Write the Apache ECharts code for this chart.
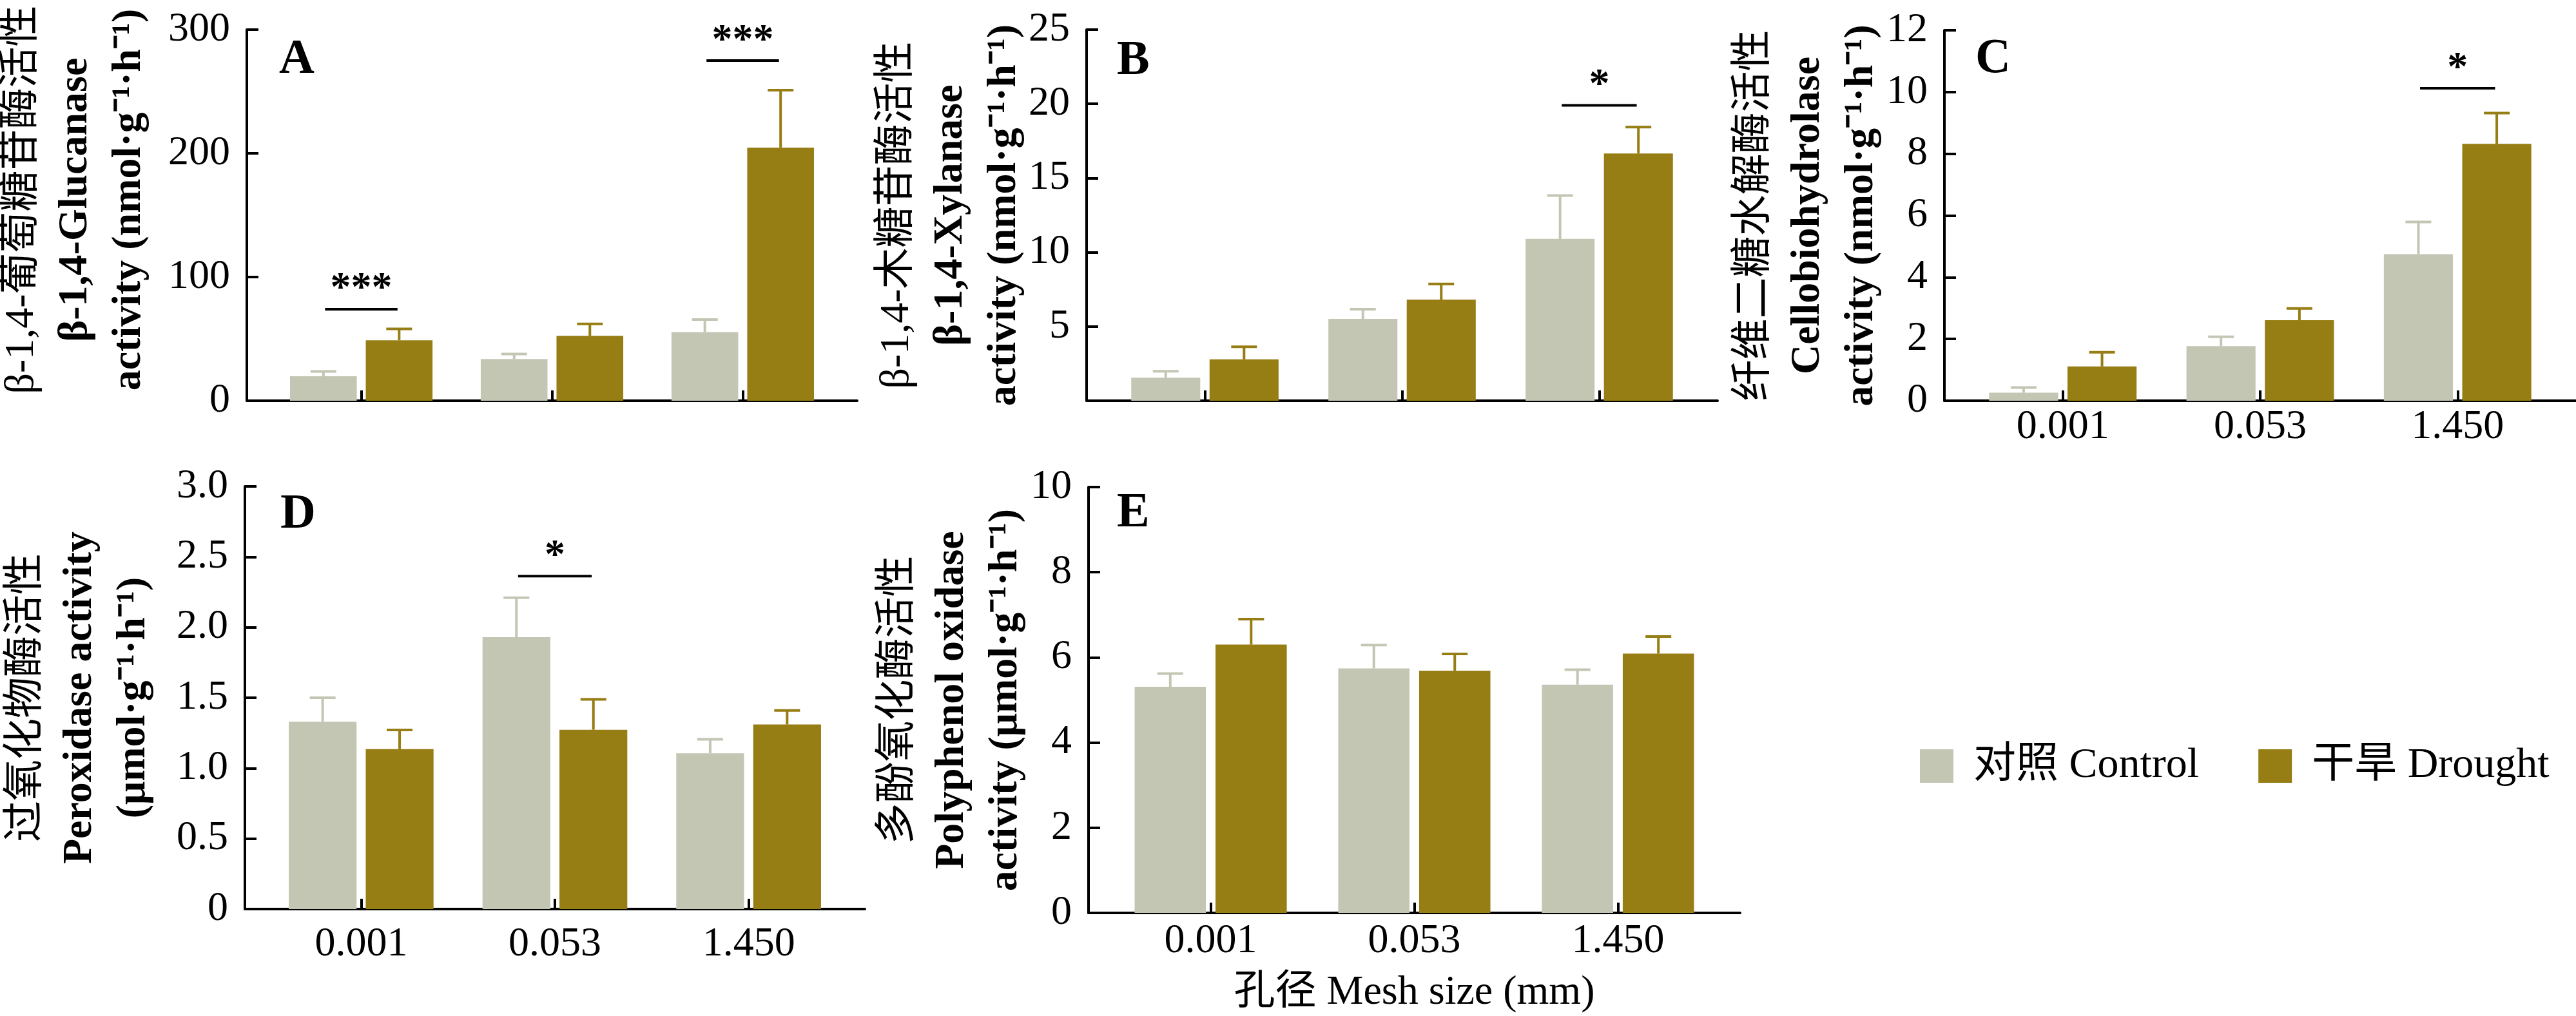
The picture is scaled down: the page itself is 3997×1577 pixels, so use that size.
<!DOCTYPE html>
<html>
<head>
<meta charset="utf-8">
<title>Enzyme activity by mesh size</title>
<script src="https://cdn.jsdelivr.net/npm/echarts@6.0.0/dist/echarts.min.js"></script>
<style>
	html, body { margin: 0; padding: 0; background: #fff; }
	#chart { width: 3997px; height: 1577px; }
</style>
</head>
<body>
<div id="chart"></div>
<script>
(function() {
	"use strict";

	/* data (mean and standard error) */
	var meshSizes = ['0.001', '0.053', '1.450'];

	var glucControl = [19.8, 33.7, 55.5];
	var glucControlErr = [3.9, 4.0, 10.1];
	var glucDrought = [48.8, 52.5, 204.6];
	var glucDroughtErr = [9.3, 9.6, 46.5];

	var xylControl = [1.55, 5.51, 10.9];
	var xylControlErr = [0.44, 0.65, 2.92];
	var xylDrought = [2.79, 6.81, 16.66];
	var xylDroughtErr = [0.85, 1.06, 1.78];

	var cbhControl = [0.26, 1.77, 4.75];
	var cbhControlErr = [0.17, 0.30, 1.04];
	var cbhDrought = [1.11, 2.61, 8.32];
	var cbhDroughtErr = [0.46, 0.38, 1.00];

	var perControl = [1.33, 1.93, 1.105];
	var perControlErr = [0.17, 0.28, 0.10];
	var perDrought = [1.135, 1.273, 1.31];
	var perDroughtErr = [0.136, 0.215, 0.10];

	var ppoControl = [5.31, 5.74, 5.36];
	var ppoControlErr = [0.31, 0.55, 0.35];
	var ppoDrought = [6.30, 5.69, 6.09];
	var ppoDroughtErr = [0.60, 0.39, 0.40];

	/* significance: [group, height of the bar line] and its stars */
	var glucSig = [[0, 74], [2, 275]];
	var glucSigText = ['***', '***'];
	var xylSig = [[2, 19.9]];
	var xylSigText = ['*'];
	var cbhSig = [[2, 10.12]];
	var cbhSigText = ['*'];
	var perSig = [[1, 2.363]];
	var perSigText = ['*'];

	var glucTicks = [0, 100, 200, 300];
	var xylTicks = [0, 5, 10, 15, 20, 25];
	var cbhTicks = [0, 2, 4, 6, 8, 10, 12];
	var perTicks = [0, 0.5, 1.0, 1.5, 2.0, 2.5, 3.0];
	var ppoTicks = [0, 2, 4, 6, 8, 10];

	var CONTROL = '对照 Control';
	var DROUGHT = '干旱 Drought';
	var colorControl = '#c4c6b4';
	var colorDrought = '#967d14';
	var FONT = '"Liberation Serif", "Times New Roman", "Noto Sans CJK SC", serif';

	var barWidthPct = 0.35;
	var barGapPct = 0.135;
	var barOffset = (barWidthPct + barWidthPct * barGapPct) / 2;

	var grids = [], xAxes = [], yAxes = [], series = [], titles = [];

	function pairs(values) {
		return values.map(function(v, i) { return [i, v]; });
	}

	function errorSeries(idx, values, errs, offset, color) {
		return {
			type: 'custom',
			xAxisIndex: idx,
			yAxisIndex: idx,
			silent: true,
			z: 3,
			data: values.map(function(v, i) { return [i, v, errs[i]]; }),
			renderItem: function(params, api) {
				var x = api.value(0) + offset;
				var top = api.coord([x, api.value(1)]);
				var end = api.coord([x, api.value(1) + api.value(2)]);
				return {
					type: 'group',
					children: [{
						type: 'line',
						shape: { x1: top[0], y1: top[1], x2: end[0], y2: end[1] },
						style: { stroke: color, lineWidth: 4 }
					}, {
						type: 'line',
						shape: { x1: end[0] - 20, y1: end[1], x2: end[0] + 20, y2: end[1] },
						style: { stroke: color, lineWidth: 4 }
					}]
				};
			}
		};
	}

	function sigSeries(idx, sig, texts) {
		return {
			type: 'custom',
			xAxisIndex: idx,
			yAxisIndex: idx,
			silent: true,
			z: 4,
			data: sig,
			renderItem: function(params, api) {
				var g = api.value(0);
				var left = api.coord([g - 0.19, api.value(1)]);
				var right = api.coord([g + 0.19, api.value(1)]);
				var mid = api.coord([g, api.value(1)]);
				return {
					type: 'group',
					children: [{
						type: 'line',
						shape: { x1: left[0], y1: left[1], x2: right[0], y2: right[1] },
						style: { stroke: '#000', lineWidth: 4 }
					}, {
						type: 'text',
						style: {
							text: texts[params.dataIndex],
							x: mid[0],
							y: mid[1] - 30,
							align: 'center',
							verticalAlign: 'middle',
							font: 'bold 64px ' + FONT,
							fill: '#000'
						}
					}]
				};
			}
		};
	}

	function addPanel(p) {
		var idx = grids.length;
		grids.push(p.grid);
		xAxes.push({
			type: 'value',
			gridIndex: idx,
			min: -0.6,
			max: 2.6,
			name: p.xName || '',
			nameLocation: 'middle',
			nameGap: p.xNameGap || 0,
			nameTextStyle: { fontFamily: FONT, fontSize: 64, color: '#000' },
			axisLine: { show: true, onZero: false, lineStyle: { color: '#000', width: 4 } },
			axisTick: { show: true, inside: true, length: 16, customValues: [0, 1, 2], lineStyle: { color: '#000', width: 4 } },
			axisLabel: {
				show: p.showLabels,
				customValues: [0, 1, 2],
				margin: p.labelMargin || 10,
				fontFamily: FONT,
				fontSize: 64,
				color: '#000',
				formatter: function(v) { return meshSizes[Math.round(v)]; }
			},
			splitLine: { show: false }
		});
		yAxes.push({
			type: 'value',
			gridIndex: idx,
			min: p.ticks[0],
			max: p.ticks[p.ticks.length - 1],
			interval: p.ticks[1] - p.ticks[0],
			name: p.yName,
			nameLocation: 'middle',
			nameRotate: 90,
			nameGap: p.yNameGap,
			nameTextStyle: {
				padding: p.yNamePad || 0,
				rich: {
					r: { fontFamily: FONT, fontSize: 64, lineHeight: 83, color: '#000' },
					b: { fontFamily: FONT, fontSize: 64, lineHeight: 83, fontWeight: 'bold', color: '#000' }
				}
			},
			axisLine: { show: true, onZero: false, lineStyle: { color: '#000', width: 4 } },
			axisTick: { show: true, inside: true, length: 18, lineStyle: { color: '#000', width: 4 } },
			axisLabel: {
				margin: 26,
				fontFamily: FONT,
				fontSize: 64,
				color: '#000',
				formatter: p.tickFormat
			},
			splitLine: { show: false }
		});
		series.push({
			type: 'bar',
			name: CONTROL,
			xAxisIndex: idx,
			yAxisIndex: idx,
			data: pairs(p.control),
			barWidth: (barWidthPct * 100) + '%',
			barGap: (barGapPct * 100) + '%',
			itemStyle: { color: colorControl }
		});
		series.push({
			type: 'bar',
			name: DROUGHT,
			xAxisIndex: idx,
			yAxisIndex: idx,
			data: pairs(p.drought),
			barWidth: (barWidthPct * 100) + '%',
			barGap: (barGapPct * 100) + '%',
			itemStyle: { color: colorDrought }
		});
		series.push(errorSeries(idx, p.control, p.controlErr, -barOffset, colorControl));
		series.push(errorSeries(idx, p.drought, p.droughtErr, barOffset, colorDrought));
		if (p.sig) series.push(sigSeries(idx, p.sig, p.sigText));
		titles.push({
			text: p.letter,
			left: p.letterPos[0],
			top: p.letterPos[1],
			padding: 0,
			textStyle: { fontFamily: FONT, fontSize: 76, fontWeight: 'bold', color: '#000' }
		});
	}

	/* A: glucanase */
	addPanel({
		letter: 'A', letterPos: [433, 55],
		grid: { left: 383, top: 46, width: 947, height: 576 },
		ticks: glucTicks,
		tickFormat: function(v) { return String(v); },
		yName: '{r|β-1,4-葡萄糖苷酶活性}\n{b|β-1,4-Glucanase}\n{b|activity (nmol·g⁻¹·h⁻¹)}',
		yNameGap: 141, yNamePad: [0, 0, 0, 48],
		showLabels: false,
		control: glucControl, controlErr: glucControlErr,
		drought: glucDrought, droughtErr: glucDroughtErr,
		sig: glucSig, sigText: glucSigText
	});

	/* B: xylanase */
	addPanel({
		letter: 'B', letterPos: [1733, 57],
		grid: { left: 1686, top: 46, width: 979, height: 576 },
		ticks: xylTicks,
		tickFormat: function(v) { return v === 0 ? '' : String(v); },
		yName: '{r|β-1,4-木糖苷酶活性}\n{b|β-1,4-Xylanase}\n{b|activity (nmol·g⁻¹·h⁻¹)}',
		yNameGap: 86,
		showLabels: false,
		control: xylControl, controlErr: xylControlErr,
		drought: xylDrought, droughtErr: xylDroughtErr,
		sig: xylSig, sigText: xylSigText
	});

	/* C: cellobiohydrolase */
	addPanel({
		letter: 'C', letterPos: [3065, 54],
		grid: { left: 3017, top: 47, width: 980, height: 575 },
		ticks: cbhTicks,
		tickFormat: function(v) { return String(v); },
		yName: '{r|纤维二糖水解酶活性}\n{b|Cellobiohydrolase}\n{b|activity (nmol·g⁻¹·h⁻¹)}',
		yNameGap: 87,
		showLabels: true, labelMargin: 9,
		control: cbhControl, controlErr: cbhControlErr,
		drought: cbhDrought, droughtErr: cbhDroughtErr,
		sig: cbhSig, sigText: cbhSigText
	});

	/* D: peroxidase */
	addPanel({
		letter: 'D', letterPos: [435, 761],
		grid: { left: 380, top: 755, width: 962, height: 656 },
		ticks: perTicks,
		tickFormat: function(v) { return v === 0 ? '0' : v.toFixed(1); },
		yName: '{r|过氧化物酶活性}\n{b|Peroxidase activity}\n{b|(μmol·g⁻¹·h⁻¹)}',
		yNameGap: 131,
		showLabels: true, labelMargin: 23,
		control: perControl, controlErr: perControlErr,
		drought: perDrought, droughtErr: perDroughtErr,
		sig: perSig, sigText: perSigText
	});

	/* E: polyphenol oxidase */
	addPanel({
		letter: 'E', letterPos: [1733, 759],
		grid: { left: 1689, top: 756, width: 1011, height: 661 },
		ticks: ppoTicks,
		tickFormat: function(v) { return String(v); },
		yName: '{r|多酚氧化酶活性}\n{b|Polyphenol oxidase}\n{b|activity (μmol·g⁻¹·h⁻¹)}',
		yNameGap: 87,
		showLabels: true, labelMargin: 12,
		xName: '孔径 Mesh size (mm)', xNameGap: 92,
		control: ppoControl, controlErr: ppoControlErr,
		drought: ppoDrought, droughtErr: ppoDroughtErr
	});

	var chart = echarts.init(document.getElementById('chart'));
	chart.setOption({
		backgroundColor: '#fff',
		animation: false,
		title: titles,
		legend: {
			data: [CONTROL, DROUGHT],
			left: 2979,
			top: 1156,
			padding: 0,
			icon: 'rect',
			itemWidth: 52,
			itemHeight: 52,
			itemGap: 92,
			selectedMode: false,
			textStyle: { fontFamily: FONT, fontSize: 66, color: '#000', padding: [0, 0, 0, 26] }
		},
		grid: grids,
		xAxis: xAxes,
		yAxis: yAxes,
		series: series
	});
})();
</script>
</body>
</html>
